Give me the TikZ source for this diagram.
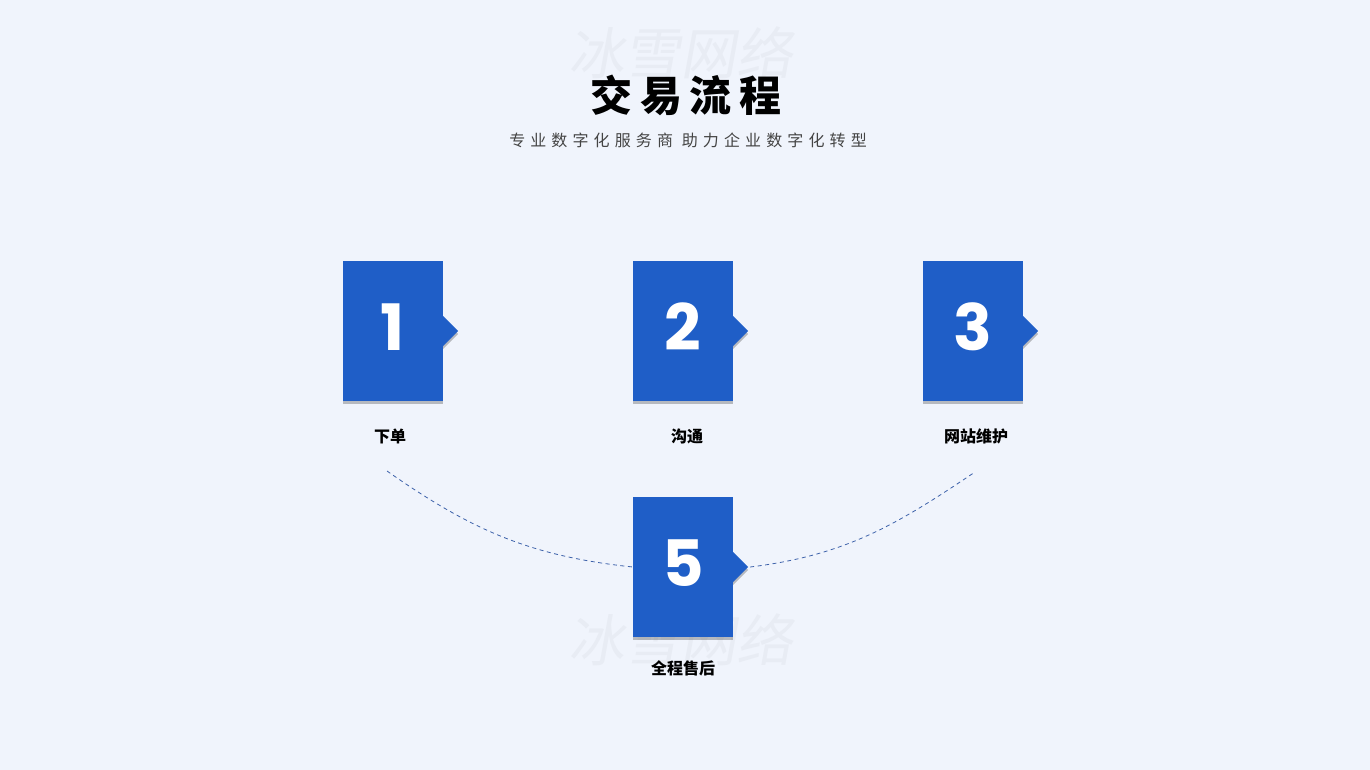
\documentclass[tikz,border=0pt]{standalone}
\usepackage{fontspec}
\setmainfont{Poppins}
\newfontfamily\cjk{Noto Sans CJK SC}
\usetikzlibrary{positioning,shadows}

\definecolor{bgblue}{HTML}{F0F4FC}
\definecolor{boxblue}{HTML}{1F5EC7}
\definecolor{markgray}{HTML}{E8ECF4}
\definecolor{subgray}{HTML}{444444}
\definecolor{dashblue}{HTML}{3D62AA}

\tikzset{
  stepbox/.style={fill=boxblue, minimum width=100pt, minimum height=140pt, inner sep=0pt,
    drop shadow={shadow xshift=0pt, shadow yshift=-3pt, opacity=.3, fill=black!80}},
  stepnum/.style={font=\fontsize{64}{64}\selectfont\bfseries, text=white},
  steplab/.style={font=\cjk\bfseries\fontsize{16}{16}\selectfont, inner sep=0pt},
  dashline/.style={dashblue, line width=.8pt, dash pattern=on 4pt off 3.5pt},
  wmark/.style={font=\cjk\addfontfeature{FakeSlant=0.18}\fontsize{56}{56}\selectfont, text=markgray}
}

\begin{document}
\begin{tikzpicture}[x=1pt,y=-1pt]
\useasboundingbox[fill=bgblue] (0,0) rectangle (1370,770);

% watermarks
\node[wmark] (mark1) at (680,53) {冰雪网络};
\node[wmark] (mark2) at (680,640) {冰雪网络};

% heading
\node[font=\cjk\bfseries\addfontfeature{LetterSpace=18}\fontsize{42}{42}\selectfont] (title) at (686,95) {交易流程};
\node[font=\cjk\addfontfeature{LetterSpace=32}\fontsize{16}{16}\selectfont, text=subgray] (subtitle) at (688,140) {专业数字化服务商 助力企业数字化转型};

% steps
\foreach \n/\x/\y in {1/393/331, 2/683/331, 3/973/331, 5/683/567} {
  \node[stepbox] (box\n) at (\x,\y) {};
  \fill[boxblue, drop shadow={shadow xshift=0pt, shadow yshift=-3pt, opacity=.3, fill=black!80}]
    (box\n.east) ++(0,-15) -- ++(15,15) -- ++(-15,15) -- cycle;
  \node[stepnum] (num\n) at ([yshift=4pt]box\n.center) {\n};
}
\coordinate (tip5) at ([xshift=15pt]box5.east);

\node[steplab, below=27pt of box1, xshift=-3pt] (lab1) {下单};
\node[steplab, below=27pt of box2, xshift=4pt] (lab2) {沟通};
\node[steplab, below=27pt of box3, xshift=3pt] (lab3) {网站维护};
\node[steplab, below=23pt of box5] (lab5) {全程售后};

% dashed arc
\coordinate (c1) at (387,471);
\coordinate (c3) at (975,472);
\draw[dashline] (c1) to[out=-35,in=174] (box5.west);
\draw[dashline] ([xshift=2pt]tip5) to[out=7,in=-146] (c3);
\end{tikzpicture}
\end{document}
